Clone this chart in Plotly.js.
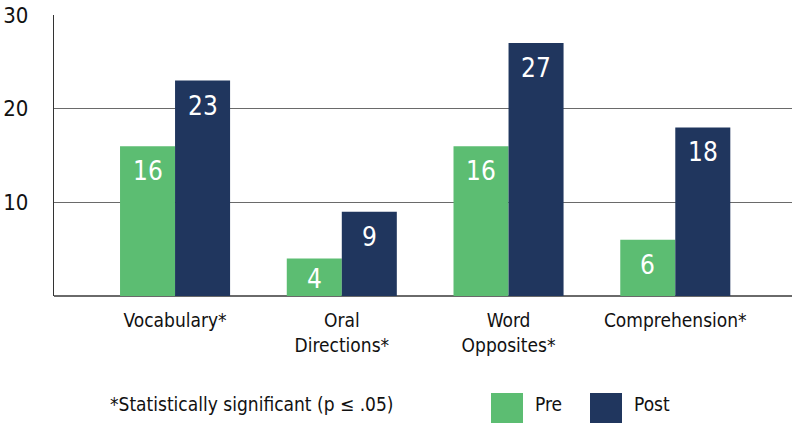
<!DOCTYPE html>
<html>
<head>
<meta charset="utf-8">
<script src="https://cdn.plot.ly/plotly-3.0.1.min.js"></script>
<style>
html,body{margin:0;padding:0;background:#fff;}
#chart{width:792px;height:423px;}
</style>
</head>
<body>
<div id="chart"></div>
<script>
const categories = ["Vocabulary*", "Oral<br>Directions*", "Word<br>Opposites*", "Comprehension*"];
const preValues = [16, 4, 16, 6];
const postValues = [23, 9, 27, 18];
const seriesNames = ["Pre", "Post"];
const tickValues = [10, 20, 30];
const footnote = "*Statistically significant (p \u2264 .05)";

const GREEN = "#5cbd72";
const NAVY = "#20365e";
const FONT = "'DejaVu Sans Condensed', 'DejaVu Sans', sans-serif";

const traces = [
  {type: "bar", name: seriesNames[0], x: categories, y: preValues,
   marker: {color: GREEN}, hoverinfo: "skip"},
  {type: "bar", name: seriesNames[1], x: categories, y: postValues,
   marker: {color: NAVY}, hoverinfo: "skip"}
];

const annotations = [];
[preValues, postValues].forEach((vals, s) => {
  vals.forEach((v, i) => {
    annotations.push({
      x: categories[i], y: v, xref: "x", yref: "y",
      text: String(v), showarrow: false,
      xanchor: "center", yanchor: "top",
      xshift: s === 0 ? -27.5 : 27.5, yshift: v < 5 ? -3 : -8,
      font: {family: FONT, size: 26, color: "#ffffff"}
    });
  });
});
annotations.push({
  xref: "paper", yref: "paper", x: (108-54)/738, y: -(404-296)/281,
  xanchor: "left", yanchor: "middle", showarrow: false,
  text: footnote, font: {family: FONT, size: 19, color: "#111"}
});
annotations.push({
  xref: "paper", yref: "paper", x: (533-54)/738, y: -(404-296)/281,
  xanchor: "left", yanchor: "middle", showarrow: false,
  text: seriesNames[0], font: {family: FONT, size: 19, color: "#111"}
});
annotations.push({
  xref: "paper", yref: "paper", x: (632-54)/738, y: -(404-296)/281,
  xanchor: "left", yanchor: "middle", showarrow: false,
  text: seriesNames[1], font: {family: FONT, size: 19, color: "#111"}
});

const shapes = [
  {type: "rect", xref: "paper", yref: "paper",
   x0: (491-54)/738, x1: (523-54)/738, y0: -(423-296)/281, y1: -(393-296)/281,
   fillcolor: GREEN, line: {width: 0}},
  {type: "rect", xref: "paper", yref: "paper",
   x0: (590-54)/738, x1: (622-54)/738, y0: -(423-296)/281, y1: -(393-296)/281,
   fillcolor: NAVY, line: {width: 0}}
];

const layout = {
  width: 792, height: 423,
  margin: {l: 54, r: 0, t: 15, b: 127, pad: 0},
  paper_bgcolor: "#ffffff", plot_bgcolor: "#ffffff",
  barmode: "group", bargap: 0.34, bargroupgap: 0,
  showlegend: false,
  font: {family: FONT, color: "#111"},
  xaxis: {
    type: "category", range: [-0.726, 3.70],
    showgrid: false, zeroline: false,
    showline: false, ticks: "",
    tickfont: {family: FONT, size: 19, color: "#111"},
    ticklabelstandoff: 11
  },
  yaxis: {
    range: [0, 30], tickvals: tickValues, ticktext: tickValues.map(String),
    showgrid: true, gridcolor: "#6a6a6a", gridwidth: 1.3,
    zeroline: true, zerolinecolor: "#6a6a6a", zerolinewidth: 1.5,
    showline: true, linecolor: "#333", linewidth: 1.2,
    ticks: "", ticklabelstandoff: 20,
    tickfont: {family: FONT, size: 22, color: "#111"}
  },
  annotations: annotations,
  shapes: shapes
};

Plotly.newPlot("chart", traces, layout, {staticPlot: true, displayModeBar: false});
</script>
</body>
</html>
